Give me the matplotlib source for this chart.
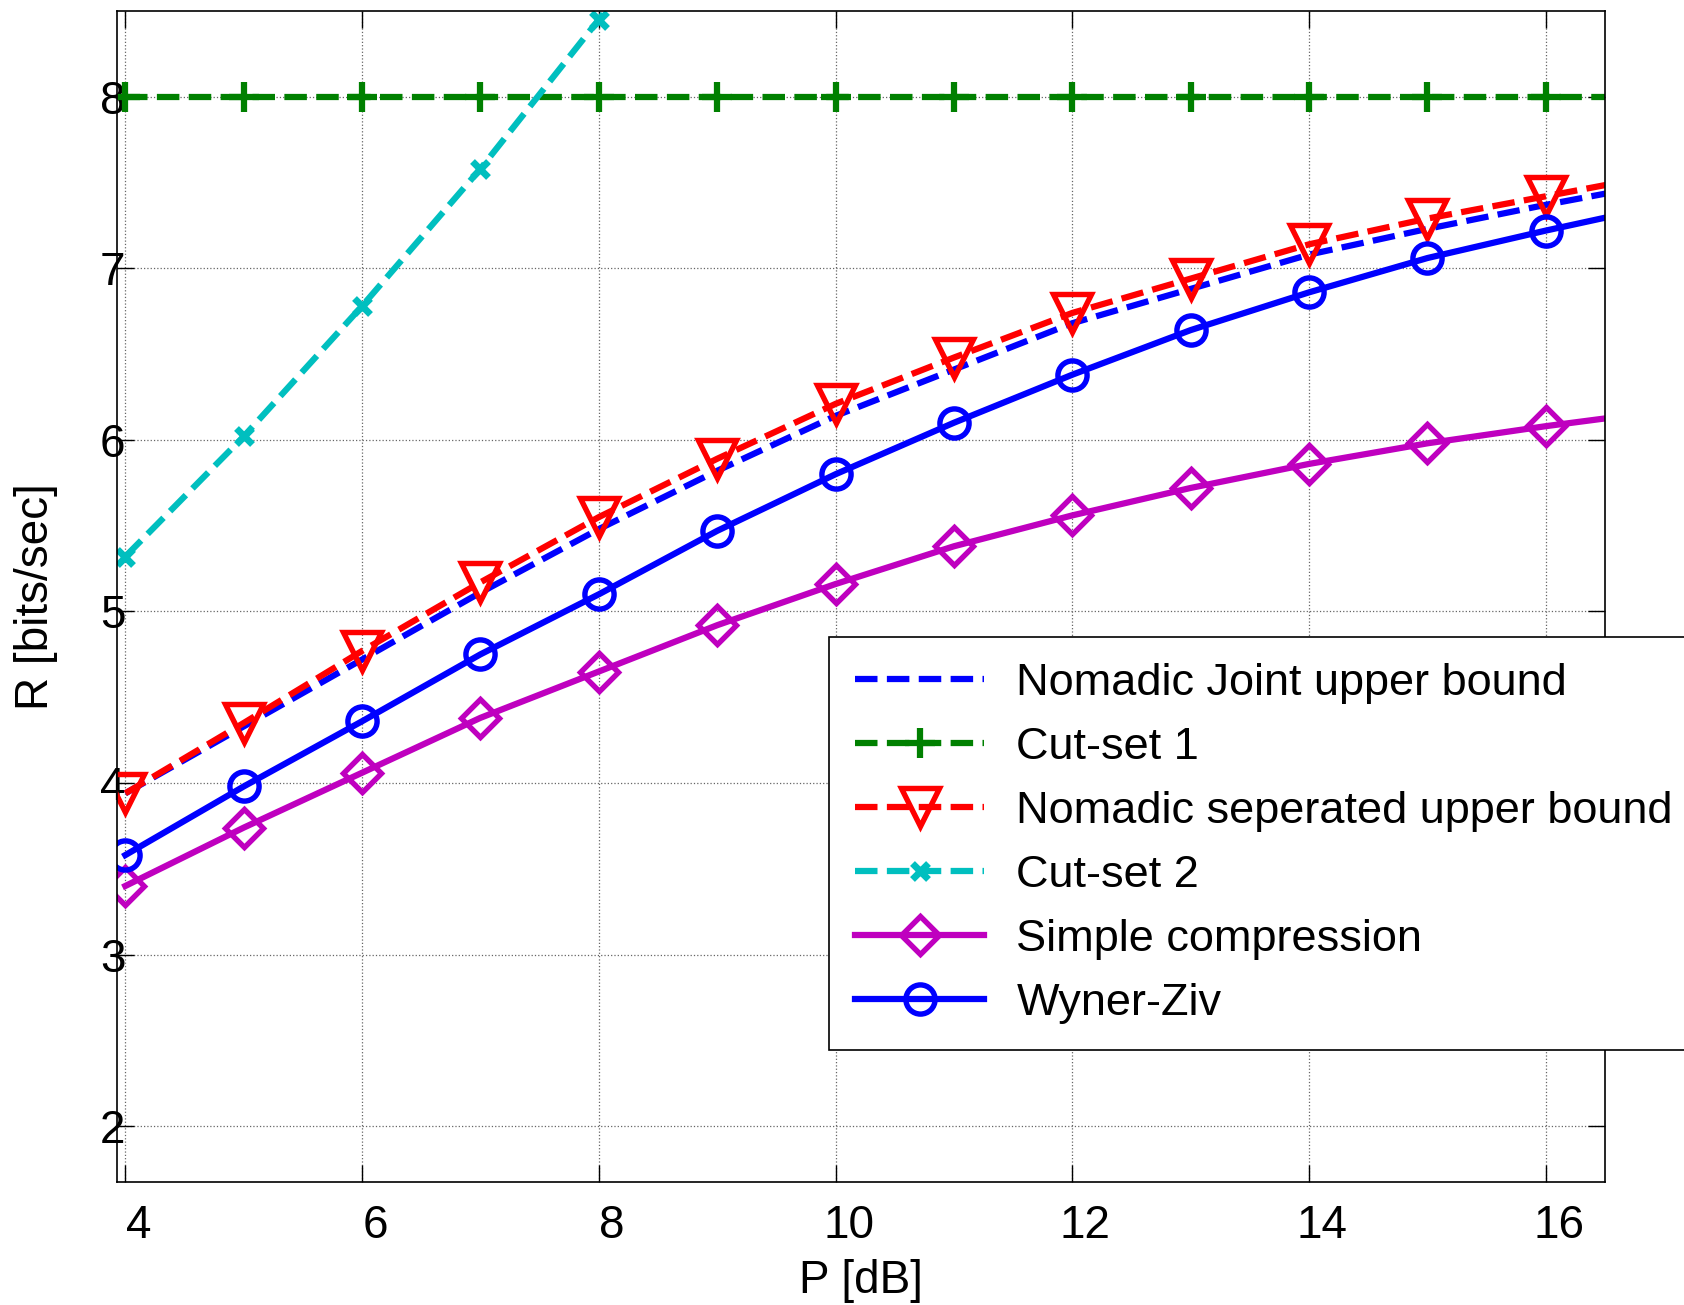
import matplotlib
matplotlib.use("Agg")
import matplotlib.pyplot as plt
import matplotlib.transforms as mtransforms

# -------- DATA ------------------------------------------------------
P_DB = [4, 5, 6, 7, 8, 9, 10, 11, 12, 13, 14, 15, 16, 17]
JOINT_UB = [3.94, 4.33, 4.72, 5.11, 5.48, 5.82, 6.14, 6.41, 6.68, 6.88, 7.08, 7.23, 7.37, 7.50]
CUTSET_1 = [8.0] * len(P_DB)
SEPARATED_UB = [3.94, 4.35, 4.77, 5.17, 5.55, 5.89, 6.21, 6.48, 6.74, 6.94, 7.14, 7.29, 7.42, 7.55]
P_CUTSET_2 = [4, 5, 6, 7, 8, 9]
CUTSET_2 = [5.32, 6.02, 6.78, 7.58, 8.45, 9.35]
SIMPLE_COMP = [3.40, 3.74, 4.06, 4.38, 4.65, 4.92, 5.16, 5.38, 5.56, 5.72, 5.86, 5.98, 6.08, 6.17]
WYNER_ZIV = [3.58, 3.98, 4.36, 4.75, 5.10, 5.47, 5.80, 6.10, 6.38, 6.64, 6.86, 7.06, 7.22, 7.37]

X_TICKS = [4, 6, 8, 10, 12, 14, 16]
Y_TICKS = [2, 3, 4, 5, 6, 7, 8]
# --------------------------------------------------------------------

FS = 33
LW = 4.5
MEW = 3.9
DASH = (3.6, 1.5)
MARKED = list(range(13))  # P = 4..16 carry markers, P = 17 only runs the line off the axes

plt.rcParams["font.family"] = ["Liberation Sans", "DejaVu Sans"]
plt.rcParams["font.size"] = FS

fig = plt.figure(figsize=(16.84, 13.05), dpi=100)
ax = fig.add_axes([0.0695, 0.0943, 0.8836, 0.8973])

ax.plot(P_DB, JOINT_UB, color=(0, 0, 1), lw=LW, dashes=DASH,
        label="Nomadic Joint upper bound")
ax.plot(P_DB, CUTSET_1, color=(0, 0.5, 0), lw=LW, dashes=DASH, marker="+",
        ms=22, mew=MEW + 0.6, markevery=MARKED, label="Cut-set 1")
ax.plot(P_DB, SEPARATED_UB, color=(1, 0, 0), lw=LW, dashes=DASH, marker="v", ms=27,
        mew=MEW, mfc="none", markevery=MARKED, label="Nomadic seperated upper bound")
ax.plot(P_CUTSET_2, CUTSET_2, color=(0, 0.75, 0.75), lw=LW, dashes=DASH, marker="x",
        ms=11, mew=MEW + 1, label="Cut-set 2")
ax.plot(P_DB, SIMPLE_COMP, "-", color=(0.75, 0, 0.75), lw=LW, marker="D", ms=19,
        mew=MEW, mfc="none", markevery=MARKED, label="Simple compression")
ax.plot(P_DB, WYNER_ZIV, "-", color=(0, 0, 1), lw=LW, marker="o", ms=21,
        mew=MEW, mfc="none", markevery=MARKED, label="Wyner-Ziv")

ax.set_xlim(3.93, 16.5)
ax.set_ylim(1.675, 8.5)
ax.set_xticks(X_TICKS)
ax.set_yticks(Y_TICKS)
ax.grid(True, linestyle=":", linewidth=0.9, color="0.4")

ax.tick_params(direction="in", length=12, width=1, top=True, right=True,
               labelsize=FS)
ax.tick_params(axis="x", pad=16)
ax.tick_params(axis="y", pad=-6)
for sp in ax.spines.values():
    sp.set_linewidth(1.2)

# x tick labels sit a bit right of their ticks
shift = mtransforms.ScaledTranslation(13 / 100, 0, fig.dpi_scale_trans)
for lbl in ax.get_xticklabels():
    lbl.set_transform(lbl.get_transform() + shift)

ax.set_xlabel("P [dB]", fontsize=FS)
ax.set_ylabel("R [bits/sec]", fontsize=FS)
ax.xaxis.set_label_coords(0.5, -0.066)
ax.yaxis.set_label_coords(-0.040, 0.5)

handles, labels = ax.get_legend_handles_labels()
leg = fig.legend(handles, labels, loc="upper left", bbox_to_anchor=(0.4923, 0.5119),
                 bbox_transform=fig.transFigure, borderaxespad=0, fontsize=32.5,
                 numpoints=1, handlelength=2.85, handletextpad=0.72, labelspacing=0.51,
                 borderpad=0.58, fancybox=False, framealpha=1, edgecolor="black")
leg.get_frame().set_linewidth(1.2)

fig.savefig("out.png", dpi=100)
